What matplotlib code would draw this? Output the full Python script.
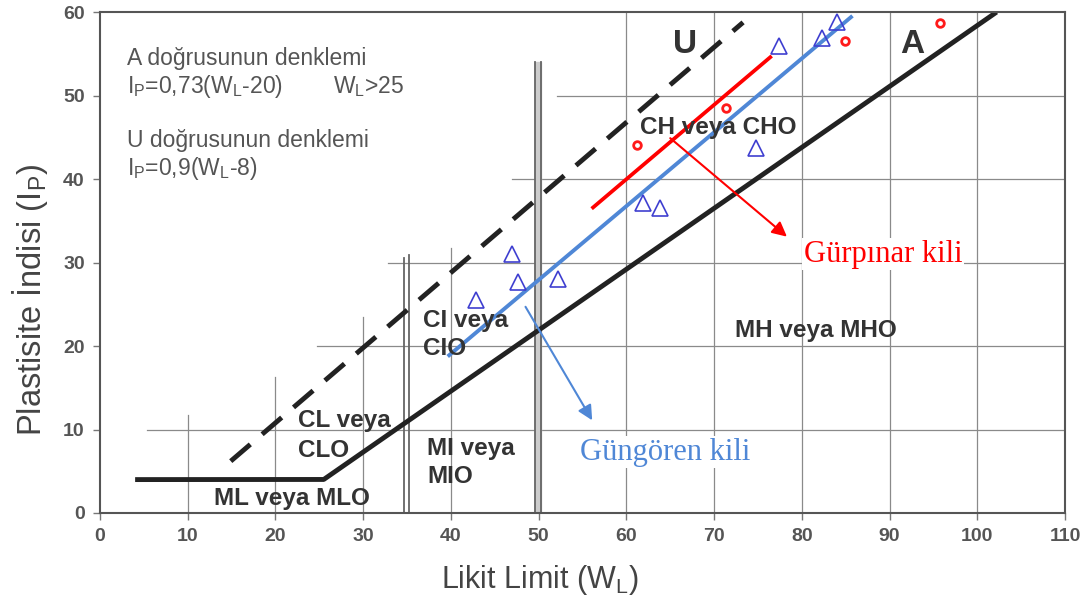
import matplotlib.pyplot as plt

plt.rcParams['font.family'] = ['Liberation Sans', 'DejaVu Sans']
plt.rcParams['mathtext.fontset'] = 'custom'
plt.rcParams['mathtext.rm'] = 'Liberation Sans'

# Deney noktalari (okunan degerler)
gungoren_wl = [42.8, 47.0, 47.7, 52.2, 61.9, 63.8, 74.8, 77.4, 82.3, 84.0]
gungoren_ip = [25.5, 31.0, 27.7, 28.0, 37.1, 36.5, 43.7, 56.0, 56.9, 58.8]
gurpinar_wl = [61.2, 71.3, 84.9, 95.8]
gurpinar_ip = [44.1, 48.5, 56.5, 58.7]

# egilim cizgileri
gurpinar_fit_wl = [56.2, 76.4]
gurpinar_fit_ip = [36.6, 54.6]
gungoren_fit_wl = [39.8, 85.6]
gungoren_fit_ip = [18.9, 59.4]

# A ve U dogrulari
a_wl = [4.0, 25.5, 102.2]
a_ip = [4.0, 0.73 * (25.5 - 20), 0.73 * (102.2 - 20)]
u_wl = [14.9, 73.3]
u_ip = [0.9 * (14.9 - 8), 0.9 * (73.3 - 8)]

# kademeli izgara cizgileri
vgrid_x = [10, 20, 30, 40, 60, 70, 80, 90, 100]
vgrid_top = [11.7, 16.3, 23.5, 31.7, 60, 60, 60, 60, 60]
hgrid_y = [10, 20, 30, 40, 50]
hgrid_start = [5.4, 24.7, 32.8, 47.0, 52.1]
double_x = [34.6, 35.2, 49.6, 50.3]
double_top = [30.5, 30.9, 54.0, 54.0]

fig = plt.figure(figsize=(10.85, 6.06), dpi=100)
ax = fig.add_axes([0.0922, 0.1535, 0.8894, 0.8265])

for x, top in zip(vgrid_x, vgrid_top):
    ax.plot([x, x], [0, top], color='#8a8a8a', lw=0.9, zorder=1)
for y, start in zip(hgrid_y, hgrid_start):
    ax.plot([start, 110], [y, y], color='#8a8a8a', lw=0.9, zorder=1)
ax.fill_betweenx([0, 54], 49.6, 50.3, color='#cccccc', zorder=1)
for x, top in zip(double_x, double_top):
    ax.plot([x, x], [0, top], color='#666666', lw=1.3, zorder=1)

ax.plot(a_wl, a_ip, color='#222222', lw=3.5, solid_capstyle='butt', zorder=2)
ax.plot(u_wl, u_ip, color='#222222', lw=3.5, dashes=(5.3, 3.2), zorder=2)

ax.plot(gurpinar_fit_wl, gurpinar_fit_ip, color='#ff0000', lw=2.7, zorder=3)
ax.plot(gungoren_fit_wl, gungoren_fit_ip, color='#4f87d6', lw=2.8, zorder=3)

ax.plot(gungoren_wl, gungoren_ip, ls='none', marker='^', ms=11, mfc='none',
        mec='#3f3fd0', mew=1.2, zorder=4)
ax.plot(gurpinar_wl, gurpinar_ip, ls='none', marker='o', ms=5.5, mfc='none',
        mec='#ff1a1a', mew=2.0, zorder=4)

# bolge etiketleri
lab = dict(color='#333333', fontsize=17.5, fontweight='bold', va='baseline', zorder=5)
ax.text(61.6, 45.4, 'CH veya CHO', **lab)
ax.text(72.4, 21.1, 'MH veya MHO', **lab)
ax.text(13.0, 1.0, 'ML veya MLO', **lab)
ax.text(22.6, 10.3, 'CL veya', **lab)
ax.text(22.6, 6.7, 'CLO', **lab)
ax.text(36.8, 22.3, 'CI veya', **lab)
ax.text(36.8, 18.9, 'CIO', **lab)
ax.text(37.3, 6.95, 'MI veya', **lab)
ax.text(37.3, 3.6, 'MIO', **lab)
ax.text(65.3, 55.1, 'U', color='#333333', fontsize=24, fontweight='bold', va='baseline')
ax.text(91.2, 55.1, 'A', color='#333333', fontsize=24, fontweight='bold', va='baseline')

eq = dict(color='#555555', fontsize=16.5, va='baseline')
ax.text(3.1, 53.65, 'A doğrusunun denklemi', **eq)
ax.text(3.1, 50.3, r'I$_\mathregular{P}$=0,73(W$_\mathregular{L}$-20)', **eq)
ax.text(26.6, 50.3, r'W$_\mathregular{L}$>25', **eq)
ax.text(3.1, 43.8, 'U doğrusunun denklemi', **eq)
ax.text(3.1, 40.5, r'I$_\mathregular{P}$=0,9(W$_\mathregular{L}$-8)', **eq)

# kil etiketleri ve oklar
ax.annotate('', xy=(78.3, 33.1), xytext=(65.0, 44.9),
            arrowprops=dict(arrowstyle='-|>', color='#ff0000', lw=1.5,
                            mutation_scale=22, shrinkA=0, shrinkB=0), zorder=5)
ax.annotate('', xy=(56.1, 11.1), xytext=(48.5, 24.7),
            arrowprops=dict(arrowstyle='-|>', color='#4f87d6', lw=1.5,
                            mutation_scale=22, shrinkA=0, shrinkB=0), zorder=5)
ax.text(80.2, 30.1, 'Gürpınar kili', family='Liberation Serif', fontsize=22,
        color='#ff0000', va='baseline', zorder=6,
        bbox=dict(facecolor='white', edgecolor='none', pad=1))
ax.text(54.7, 6.35, 'Güngören kili', family='Liberation Serif', fontsize=22,
        color='#4f87d6', va='baseline', zorder=6,
        bbox=dict(facecolor='white', edgecolor='none', pad=1))

ax.set_xlim(0, 110)
ax.set_ylim(0, 60)
ax.set_xticks(range(0, 111, 10))
ax.set_yticks(range(0, 61, 10))
for s in ax.spines.values():
    s.set_color('#555555')
    s.set_linewidth(1.5)
ax.tick_params(length=5, width=1, color='#777777', labelcolor='#555555',
               labelsize=14, pad=6)
for t in ax.get_xticklabels() + ax.get_yticklabels():
    t.set_fontweight('bold')

ax.set_xlabel(r'Likit Limit (W$_\mathregular{L}$)', fontsize=22, color='#444444', va='center')
ax.set_ylabel(r'Plastisite İndisi (I$_\mathregular{P}$)', fontsize=23.5, color='#444444', va='center')
ax.xaxis.set_label_coords(0.456, -0.134)
ax.yaxis.set_label_coords(-0.0725, 0.425)

plt.savefig('out.png', dpi=100)
